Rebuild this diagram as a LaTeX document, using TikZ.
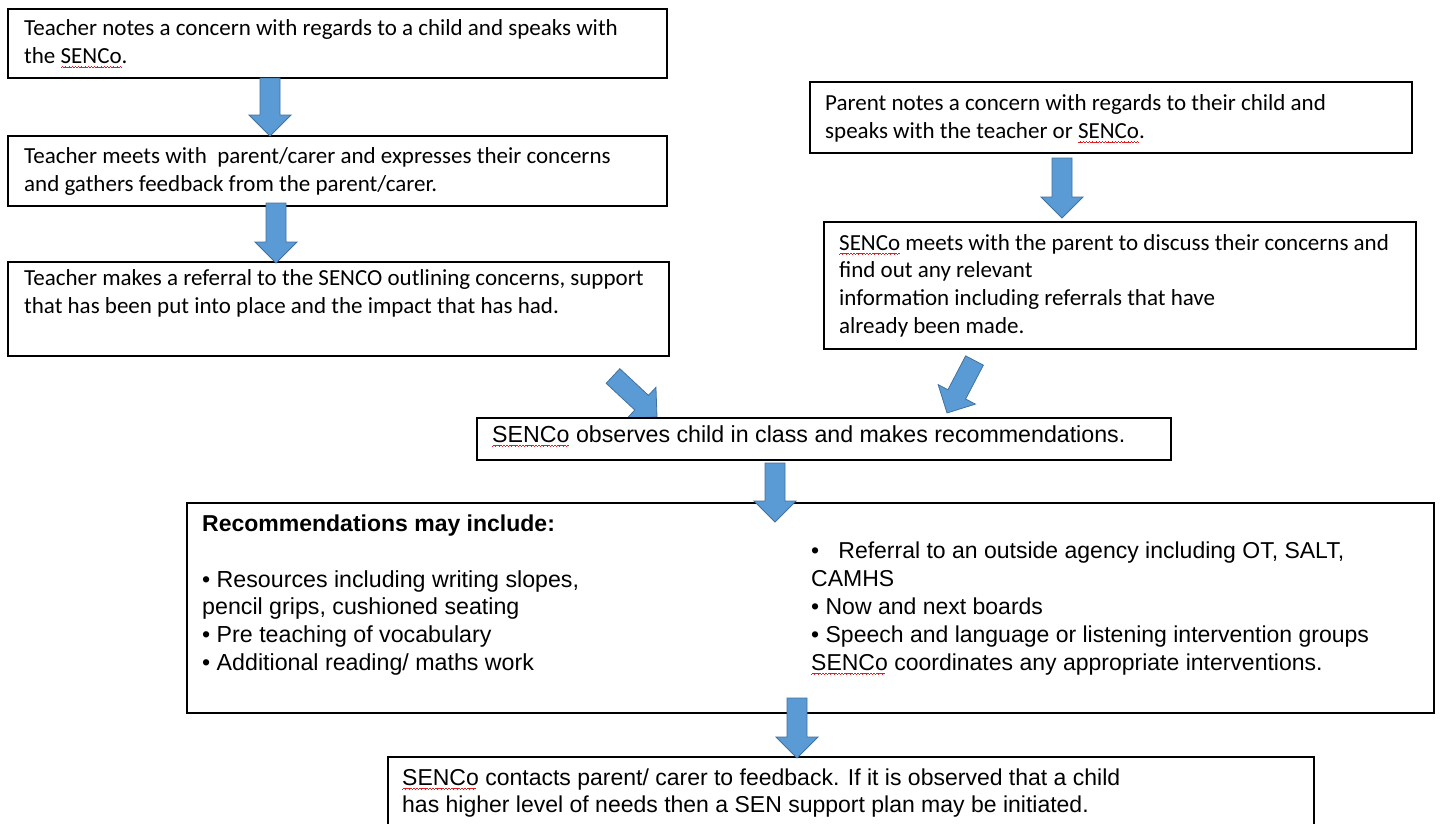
\documentclass[tikz,border=0pt]{standalone}
\usepackage{fontspec}
\usetikzlibrary{calc}
\newfontfamily\calfont{Carlito}
\newfontfamily\arifont{Liberation Sans}
\definecolor{arrowblue}{HTML}{5B9BD5}
\definecolor{arrowedge}{HTML}{41719C}
\definecolor{spellred}{HTML}{E02020}
\newsavebox\splbox
\newcommand\spl[1]{\sbox\splbox{#1}\rlap{\textcolor{spellred}{\leaders\hbox{\rule[-4.6pt]{0.8pt}{0.9pt}\rule[-4pt]{0.8pt}{0.9pt}\rule[-3.4pt]{0.8pt}{0.9pt}\rule[-4pt]{0.8pt}{0.9pt}}\hskip\wd\splbox}}\usebox\splbox}
\pgfdeclarelayer{under}
\pgfsetlayers{under,main}
\tikzset{
  box/.style={draw=black, line width=1.8pt, fill=white, anchor=north west, inner sep=0pt, outer sep=0pt},
  caltext/.style={anchor=base west, inner sep=0pt, align=left, font=\calfont\fontsize{23pt}{28.5pt}\selectfont},
  aritext/.style={anchor=base west, inner sep=0pt, align=left, font=\arifont\fontsize{23.2pt}{27.8pt}\selectfont},
  blockarrow/.style={fill=arrowblue, draw=arrowedge, line width=0.8pt, line join=miter}
}
\newcommand\barrow[2]{\path[blockarrow] let \p1=#1, \p2=#2, \n1={atan2(\y2-\y1,\x2-\x1)}, \n2={veclen(\x2-\x1,\y2-\y1)} in [shift={(\p1)}, rotate=\n1] (0pt,10pt) -- ({(\n2-21)*1pt},10pt) -- ({(\n2-21)*1pt},21pt) -- ({\n2*1pt},0pt) -- ({(\n2-21)*1pt},-21pt) -- ({(\n2-21)*1pt},-10pt) -- (0pt,-10pt) -- cycle;}
\begin{document}
\begin{tikzpicture}[x=1pt,y=-1pt]
\useasboundingbox (0,0) rectangle (1440,823);
% boxes
\node[box, minimum width=659pt, minimum height=69pt] (b1) at (8,9) {};
\node[box, minimum width=659pt, minimum height=70pt] (b2) at (8,136) {};
\node[box, minimum width=661pt, minimum height=94pt] (b3) at (8,262) {};
\node[box, minimum width=602pt, minimum height=71pt] (bA) at (810,82) {};
\node[box, minimum width=592pt, minimum height=127pt] (bB) at (824,222) {};
\node[box, minimum width=694pt, minimum height=42pt] (bC) at (477,418) {};
\node[box, minimum width=1247pt, minimum height=210pt] (bD) at (187,503) {};
\node[box, minimum width=926pt, minimum height=100pt] (bE) at (388,757) {};
% arrows behind the observation box
\begin{pgfonlayer}{under}
\fill[white] (0,0) rectangle (1440,823);
\barrow{($(b3.south west)+(605,20)$)}{($(bC.north west)+(180,-1)$)}
\barrow{($(bB.south west)+(150.5,11.5)$)}{($(bC.north west)+(470,-5)$)}
\end{pgfonlayer}
% down arrows
\barrow{($(b1.south west)+(262,0)$)}{($(b2.north west)+(262,0)$)}
\barrow{($(b2.south west)+(268,-3)$)}{($(b3.north west)+(268,1)$)}
\barrow{($(bA.south west)+(252,5)$)}{($(bB.north west)+(238,-4)$)}
\barrow{($(bC.south west)+(298,3)$)}{($(bD.north west)+(588,19)$)}
\barrow{($(bD.south west)+(610,-15)$)}{($(bE.north west)+(409,1)$)}
% texts (anchor = baseline of the last line)
\node[caltext] (t1) at (24,63.5) {Teacher notes a concern with regards to a child and speaks with\\the \spl{SENCo}.};
\node[caltext] (t2) at (24,191.5) {Teacher meets with\ \ parent/carer and expresses their concerns\\and gathers feedback from the parent/carer.};
\node[caltext] (t3) at (24,313.5) {Teacher makes a referral to the SENCO outlining concerns, support\\that has been put into place and the impact that has had.};
\node[caltext] (tA) at (825,138.5) {Parent notes a concern with regards to their child and\\speaks with the teacher or \spl{SENCo}.};
\node[caltext, font=\calfont\fontsize{23pt}{27.8pt}\selectfont] (tB) at (839,333.4) {\spl{SENCo} meets with the parent to discuss their concerns and\\find out any relevant\\information including referrals that have\\already been made.};
\node[aritext] (tC) at (492,442) {\spl{SENCo} observes child in class and makes recommendations.};
\node[aritext, font=\arifont\bfseries\fontsize{23pt}{27.8pt}\selectfont] (tDh) at (202,531) {Recommendations may include:};
\node[aritext] (tDL) at (202,670.4) {• Resources including writing slopes,\\pencil grips, cushioned seating\\• Pre teaching of vocabulary\\• Additional reading/ maths work};
\node[aritext, font=\arifont\fontsize{23pt}{28pt}\selectfont] (tDR) at (811,670) {•\ \ \ Referral to an outside agency including OT, SALT,\\CAMHS\\• Now and next boards\\• Speech and language or listening intervention groups\\\spl{SENCo} coordinates any appropriate interventions.};
\node[aritext, font=\arifont\fontsize{23pt}{27pt}\selectfont] (tE) at (402,812) {\spl{SENCo} contacts parent/ carer to feedback. If it is observed that a child\\has higher level of needs then a SEN support plan may be initiated.};
\end{tikzpicture}
\end{document}
